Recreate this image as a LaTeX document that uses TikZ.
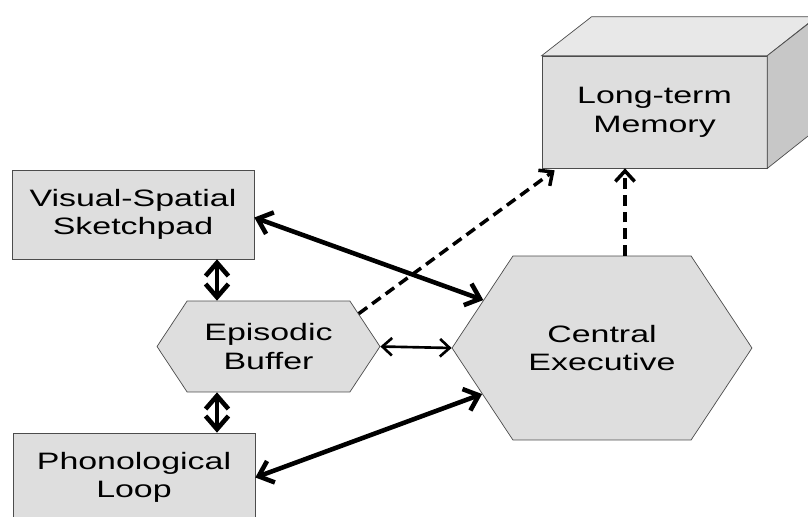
\documentclass[tikz,border=0pt]{standalone}
\usepackage{fontspec}
\setmainfont[FakeStretch=1.43]{Liberation Sans}
\usetikzlibrary{arrows.meta,shapes.symbols,calc}
\begin{document}
\begin{tikzpicture}[x=0.02cm,y=-0.02cm,font=\fontsize{13.5}{16.3}\selectfont,
    box/.style={draw=black!70,fill=black!13,align=center,inner sep=0pt},
    hexa/.style={box,shape=signal,signal to=east and west,signal pointer angle=113},
    both/.style={{Straight Barb[length=7.5pt,width=13pt]}-{Straight Barb[length=7.5pt,width=13pt]},line width=2.6pt},
    link/.style={{Straight Barb[length=5.5pt,width=10pt]}-{Straight Barb[length=5.5pt,width=10pt]},line width=1.5pt},
    toltm/.style={-{Straight Barb[length=6pt,width=11pt]},line width=2pt,dash pattern=on 6pt off 3.5pt}]
    \useasboundingbox (0,0) rectangle (808,517);
    % long-term memory (cube)
    \node[box,minimum width=4.5cm,minimum height=2.24cm] (ltm) at (654.5,112) {Long-term\\Memory};
    \draw[draw=black!70,fill=black!9] (ltm.north west) -- ++(50,-39) -- ++(225,0) -- (ltm.north east) -- cycle;
    \draw[draw=black!70,fill=black!22] (ltm.north east) -- ++(50,-39) -- ++(0,112) -- (ltm.south east) -- cycle;
    % slave systems
    \node[box,minimum width=4.84cm,minimum height=1.78cm] (vss) at (133,214.5) {Visual-Spatial\\Sketchpad};
    \node[box,minimum width=4.84cm,minimum height=1.78cm] (pl) at (134,477.5) {Phonological\\Loop};
    \node[hexa,minimum width=4.46cm,minimum height=1.82cm] (eb) at (268.5,346.5) {Episodic\\Buffer};
    \node[hexa,minimum width=6cm,minimum height=3.68cm] (ce) at (602,348) {Central\\Executive};
    % connections
    \draw[both] (vss.south -| 217,0) -- (eb.north -| 217,0);
    \draw[both] (eb.south -| 217,0) -- (pl.north -| 217,0);
    \draw[both] ($(vss.east)+(0,3)$) -- (ce.158);
    \draw[both] (pl.east) -- (ce.201);
    \draw[link] (eb.east) -- (ce.west);
    \draw[toltm] (eb.20) -- ($(ltm.south west)+(13,2)$);
    \draw[toltm] ($(ce.north)+(23,0)$) -- ($(ltm.south)+(-29.5,0)$);
\end{tikzpicture}
\end{document}
